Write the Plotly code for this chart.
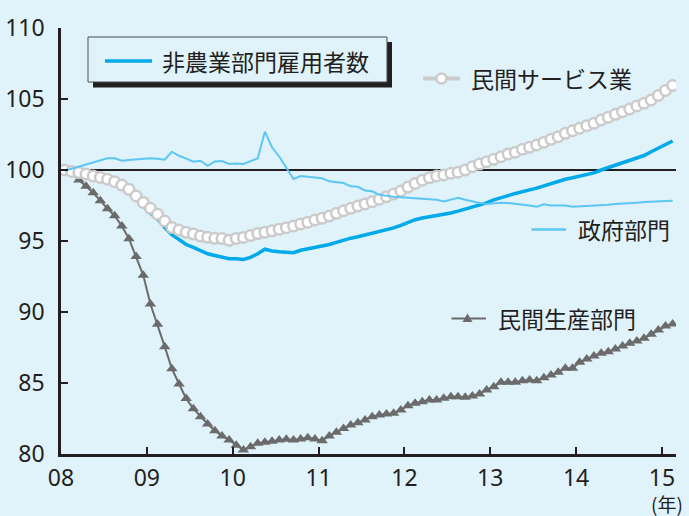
import plotly.graph_objects as go

# ---------------- data (monthly index, Jan 2008 = 100) ----------------
start_year = 2008
n_months = 86  # Jan 2008 .. Feb 2015

nonfarm = [100.0, 99.9, 99.82, 99.72, 99.58, 99.45, 99.3, 99.1, 98.8, 98.4,
           97.95, 97.45, 96.95, 96.55, 95.95, 95.45, 95.1, 94.75, 94.55, 94.3,
           94.1, 93.98, 93.88, 93.75, 93.75, 93.7, 93.85, 94.1, 94.42, 94.3,
           94.25, 94.22, 94.18, 94.35, 94.45, 94.55, 94.62, 94.75, 94.9, 95.07,
           95.2, 95.3, 95.42, 95.55, 95.65, 95.78, 95.92, 96.1, 96.3, 96.5,
           96.62, 96.71, 96.78, 96.85, 96.97, 97.1, 97.25, 97.38, 97.5, 97.68,
           97.9, 98.02, 98.2, 98.35, 98.45, 98.6, 98.72, 98.88, 99.02, 99.18,
           99.35, 99.45, 99.55, 99.65, 99.8, 100.0, 100.17, 100.35, 100.52, 100.68,
           100.85, 101.02, 101.28, 101.55, 101.8, 102.04]

services = [100.0, 99.9, 99.82, 99.72, 99.58, 99.48, 99.35, 99.18, 98.94, 98.64,
            98.17, 97.72, 97.3, 96.88, 96.41, 95.95, 95.77, 95.61, 95.49, 95.35,
            95.26, 95.19, 95.17, 95.05, 95.18, 95.25, 95.38, 95.52, 95.61, 95.72,
            95.82, 95.94, 96.06, 96.2, 96.32, 96.48, 96.6, 96.76, 96.95, 97.13,
            97.3, 97.46, 97.61, 97.77, 97.94, 98.12, 98.31, 98.52, 98.8, 99.05,
            99.28, 99.45, 99.58, 99.65, 99.77, 99.84, 100.0, 100.23, 100.42, 100.58,
            100.75, 100.94, 101.13, 101.25, 101.46, 101.6, 101.76, 101.95, 102.16, 102.35,
            102.58, 102.77, 102.94, 103.12, 103.29, 103.52, 103.71, 103.92, 104.11, 104.3,
            104.51, 104.7, 104.93, 105.25, 105.6, 105.95]

government = [99.95, 100.1, 100.2, 100.35, 100.5, 100.7, 100.82, 100.82, 100.65, 100.7,
              100.75, 100.75, 100.82, 100.8, 100.72, 101.29, 101.0, 100.8, 100.58, 100.65,
              100.3, 100.6, 100.63, 100.42, 100.45, 100.42, 100.6, 100.82, 102.7, 101.6,
              100.95, 100.15, 99.37, 99.58, 99.52, 99.45, 99.42, 99.2, 99.12, 99.08,
              98.85, 98.82, 98.56, 98.5, 98.25, 98.17, 98.12, 98.08, 98.05, 98.02,
              98.0, 97.92, 97.9, 97.78, 97.9, 98.05, 97.9, 97.77, 97.68, 97.61,
              97.66, 97.7, 97.67, 97.62, 97.6, 97.5, 97.42, 97.58, 97.5, 97.49,
              97.5, 97.42, 97.44, 97.46, 97.5, 97.52, 97.55, 97.6, 97.65, 97.68,
              97.7, 97.74, 97.77, 97.8, 97.82, 97.84]

production = [100.0, 99.75, 99.3, 98.85, 98.4, 97.84, 97.27, 96.78, 96.06, 95.16,
              93.9, 92.58, 90.56, 89.13, 87.56, 86.0, 84.93, 83.9, 83.19, 82.63,
              82.11, 81.64, 81.27, 80.99, 80.61, 80.28, 80.51, 80.75, 80.82, 80.9,
              80.99, 81.03, 80.99, 81.06, 81.15, 81.06, 80.94, 81.27, 81.53, 81.8,
              82.04, 82.2, 82.39, 82.63, 82.75, 82.82, 82.87, 83.1, 83.4, 83.57,
              83.68, 83.8, 83.8, 83.92, 84.04, 84.04, 83.99, 84.08, 84.23, 84.51,
              84.74, 85.05, 85.05, 85.05, 85.16, 85.21, 85.16, 85.37, 85.56, 85.75,
              86.04, 86.04, 86.46, 86.69, 86.9, 87.09, 87.2, 87.39, 87.61, 87.8,
              87.96, 88.15, 88.43, 88.73, 89.01, 89.15]

year_ticks = [2008, 2009, 2010, 2011, 2012, 2013, 2014, 2015]
year_labels = ["08", "09", "10", "11", "12", "13", "14", "15"]
y_ticks = [80, 85, 90, 95, 100, 105, 110]

label_nonfarm = "非農業部門雇用者数"
label_services = "民間サービス業"
label_government = "政府部門"
label_production = "民間生産部門"
unit_label = "(年)"

# months plotted at mid-month
x = [start_year + (i + 0.5) / 12 for i in range(n_months)]

# ---------------- style ----------------
BG = "#e0f2fa"
C_NONFARM = "#00a9e9"
C_GOV = "#5cc7f2"
C_SERV = "#cbcbcb"
C_PROD = "#6b6b6b"
TXT = "#231f20"
JP = "Noto Sans CJK JP"
NUM = "Noto Sans"

W, H = 689, 516
L, R, T, B = 61, 13, 28, 62
PW, PH = W - L - R, H - T - B


def px(v):
    return (v - L) / PW


def py(v):
    return (H - B - v) / PH


fig = go.Figure()
fig.add_trace(go.Scatter(x=x, y=production, mode="lines+markers",
                         line=dict(color=C_PROD, width=2),
                         marker=dict(symbol="triangle-up", size=10, color=C_PROD),
                         showlegend=False, hoverinfo="skip"))
fig.add_trace(go.Scatter(x=x, y=nonfarm, mode="lines",
                         line=dict(color=C_NONFARM, width=3.5),
                         showlegend=False, hoverinfo="skip"))
fig.add_trace(go.Scatter(x=x, y=services, mode="lines+markers",
                         line=dict(color=C_SERV, width=3),
                         marker=dict(symbol="circle", size=10.5, color="white",
                                     line=dict(color=C_SERV, width=2.5)),
                         showlegend=False, hoverinfo="skip"))
fig.add_trace(go.Scatter(x=x, y=government, mode="lines",
                         line=dict(color=C_GOV, width=2),
                         showlegend=False, hoverinfo="skip"))

shapes = []
# 100 reference line
shapes.append(dict(type="line", xref="paper", yref="y", x0=0, x1=1, y0=100, y1=100,
                   line=dict(color=TXT, width=2), layer="below"))
# legend box with shadow
shapes.append(dict(type="rect", xref="paper", yref="paper",
                   x0=px(93), x1=px(392), y0=py(87.5), y1=py(42),
                   fillcolor=TXT, line=dict(width=0), layer="above"))
shapes.append(dict(type="rect", xref="paper", yref="paper",
                   x0=px(88), x1=px(387), y0=py(82), y1=py(37),
                   fillcolor=BG, line=dict(color="#4d4d4d", width=1), layer="above"))
shapes.append(dict(type="line", xref="paper", yref="paper",
                   x0=px(105), x1=px(152), y0=py(61), y1=py(61),
                   line=dict(color=C_NONFARM, width=3.5), layer="above"))
# services key
shapes.append(dict(type="line", xref="paper", yref="paper",
                   x0=px(423), x1=px(460), y0=py(78.5), y1=py(78.5),
                   line=dict(color=C_SERV, width=4), layer="above"))
r = 5
shapes.append(dict(type="circle", xref="paper", yref="paper",
                   x0=px(441.5 - r), x1=px(441.5 + r), y0=py(78.5 + r), y1=py(78.5 - r),
                   fillcolor="white", line=dict(color=C_SERV, width=2.5), layer="above"))
# government key
shapes.append(dict(type="line", xref="paper", yref="paper",
                   x0=px(531.5), x1=px(566), y0=py(229.5), y1=py(229.5),
                   line=dict(color=C_GOV, width=2.5), layer="above"))
# production key
shapes.append(dict(type="line", xref="paper", yref="paper",
                   x0=px(451.5), x1=px(486), y0=py(318.5), y1=py(318.5),
                   line=dict(color=C_PROD, width=2), layer="above"))
tx, ty = 467.5, 318.5
shapes.append(dict(type="path", xref="paper", yref="paper",
                   path=f"M{px(tx - 5)},{py(ty + 3.5)} L{px(tx + 5)},{py(ty + 3.5)} L{px(tx)},{py(ty - 5)} Z",
                   fillcolor=C_PROD, line=dict(width=0), layer="above"))

annotations = [
    dict(text=label_nonfarm, x=px(160), y=py(61), xanchor="left", yanchor="middle"),
    dict(text=label_services, x=px(469), y=py(78), xanchor="left", yanchor="middle"),
    dict(text=label_government, x=px(576), y=py(229), xanchor="left", yanchor="middle"),
    dict(text=label_production, x=px(496), y=py(318), xanchor="left", yanchor="middle"),
    dict(text=unit_label, x=px(667), y=py(504), xanchor="center", yanchor="middle"),
]
for a in annotations:
    a.update(xref="paper", yref="paper", showarrow=False,
             font=dict(family=JP, size=23, color=TXT))
annotations[-1]["font"] = dict(family=JP, size=19, color=TXT)

fig.update_layout(
    width=W, height=H,
    margin=dict(l=L, r=R, t=T, b=B, pad=0, autoexpand=False),
    paper_bgcolor=BG, plot_bgcolor=BG,
    shapes=shapes, annotations=annotations,
    font=dict(family=NUM, color=TXT),
    showlegend=False,
)
fig.update_xaxes(range=[2008, 2015.164], tickvals=year_ticks, ticktext=year_labels,
                 showgrid=False, zeroline=False, automargin=False,
                 showline=True, linecolor=TXT, linewidth=2.5,
                 ticks="inside", ticklen=7, tickwidth=1.5, tickcolor=TXT,
                 tickfont=dict(family=NUM, size=23, color=TXT), ticklabelstandoff=2)
fig.update_yaxes(range=[80, 110], tickvals=y_ticks,
                 showgrid=False, zeroline=False, automargin=False,
                 showline=True, linecolor=TXT, linewidth=2.5,
                 ticks="inside", ticklen=7, tickwidth=1.5, tickcolor=TXT,
                 tickfont=dict(family=NUM, size=23, color=TXT), ticklabelstandoff=9)

fig.write_html("out.html")
